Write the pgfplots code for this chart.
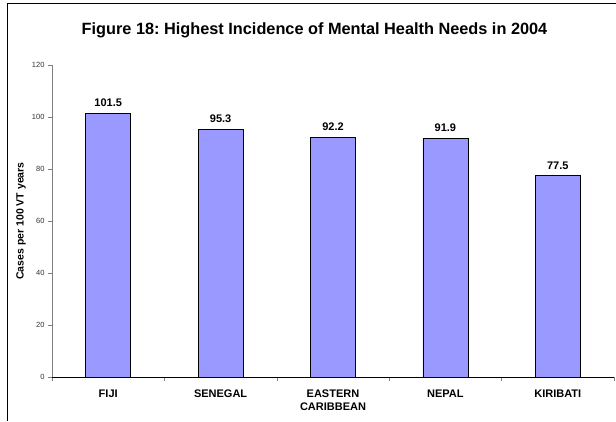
\documentclass[border=0pt]{standalone}
\usepackage{fontspec}
\setmainfont{Liberation Sans}
\usepackage{pgfplots}
\pgfplotsset{compat=1.18}
\definecolor{barblue}{HTML}{9999FF}
\frenchspacing
\begin{document}
\begin{tikzpicture}[x=1pt,y=1pt]
\useasboundingbox (0,0) rectangle (616,421);
\draw[black, line width=1pt] (7,0) -- (7,417) -- (616.5,417);
\node[font=\fontsize{16.3}{19}\selectfont\bfseries, anchor=base] at (314.5,386) {Figure 18: Highest Incidence of Mental Health Needs in 2004};
\begin{axis}[
  at={(52pt,44pt)}, anchor=south west,
  scale only axis, width=562pt, height=312pt,
  xmin=-0.5, xmax=4.5, ymin=0, ymax=120,
  axis x line*=bottom, axis y line*=left,
  x axis line style={black, line width=1pt},
  y axis line style={gray, line width=0.8pt},
  ytick={0,20,...,120},
  xtick={-0.5,0.5,...,4.5}, xticklabels={},
  tick align=outside, major tick length=4pt,
  tick style={gray, line width=0.6pt},
  extra x ticks={0,1,2,3,4},
  extra x tick labels={FIJI,SENEGAL,{EASTERN\\CARIBBEAN},NEPAL,KIRIBATI},
  extra x tick style={major tick length=0pt, tick style={draw=none}},
  x tick label style={font=\fontsize{11}{13}\selectfont\bfseries, align=center, anchor=north, yshift=-9pt},
  y tick label style={font=\fontsize{7.5}{9}\selectfont, text=black!80},
  /pgf/number format/assume math mode=true,
  ylabel={Cases per 100 VT years},
  ylabel style={font=\fontsize{10.5}{12}\selectfont\bfseries, at={(axis description cs:-0.055,0.5)}, anchor=center},
  clip=false,
]
\addplot[ybar, bar width=45pt, fill=barblue, draw=black, line width=0.8pt,
  point meta=explicit symbolic,
  nodes near coords,
  nodes near coords style={font=\fontsize{11}{13}\selectfont\bfseries, text=black, anchor=south, yshift=2.5pt}]
  coordinates {(0,101.5) [101.5] (1,95.3) [95.3] (2,92.2) [92.2] (3,91.9) [91.9] (4,77.5) [77.5]};
\end{axis}
\end{tikzpicture}
\end{document}
